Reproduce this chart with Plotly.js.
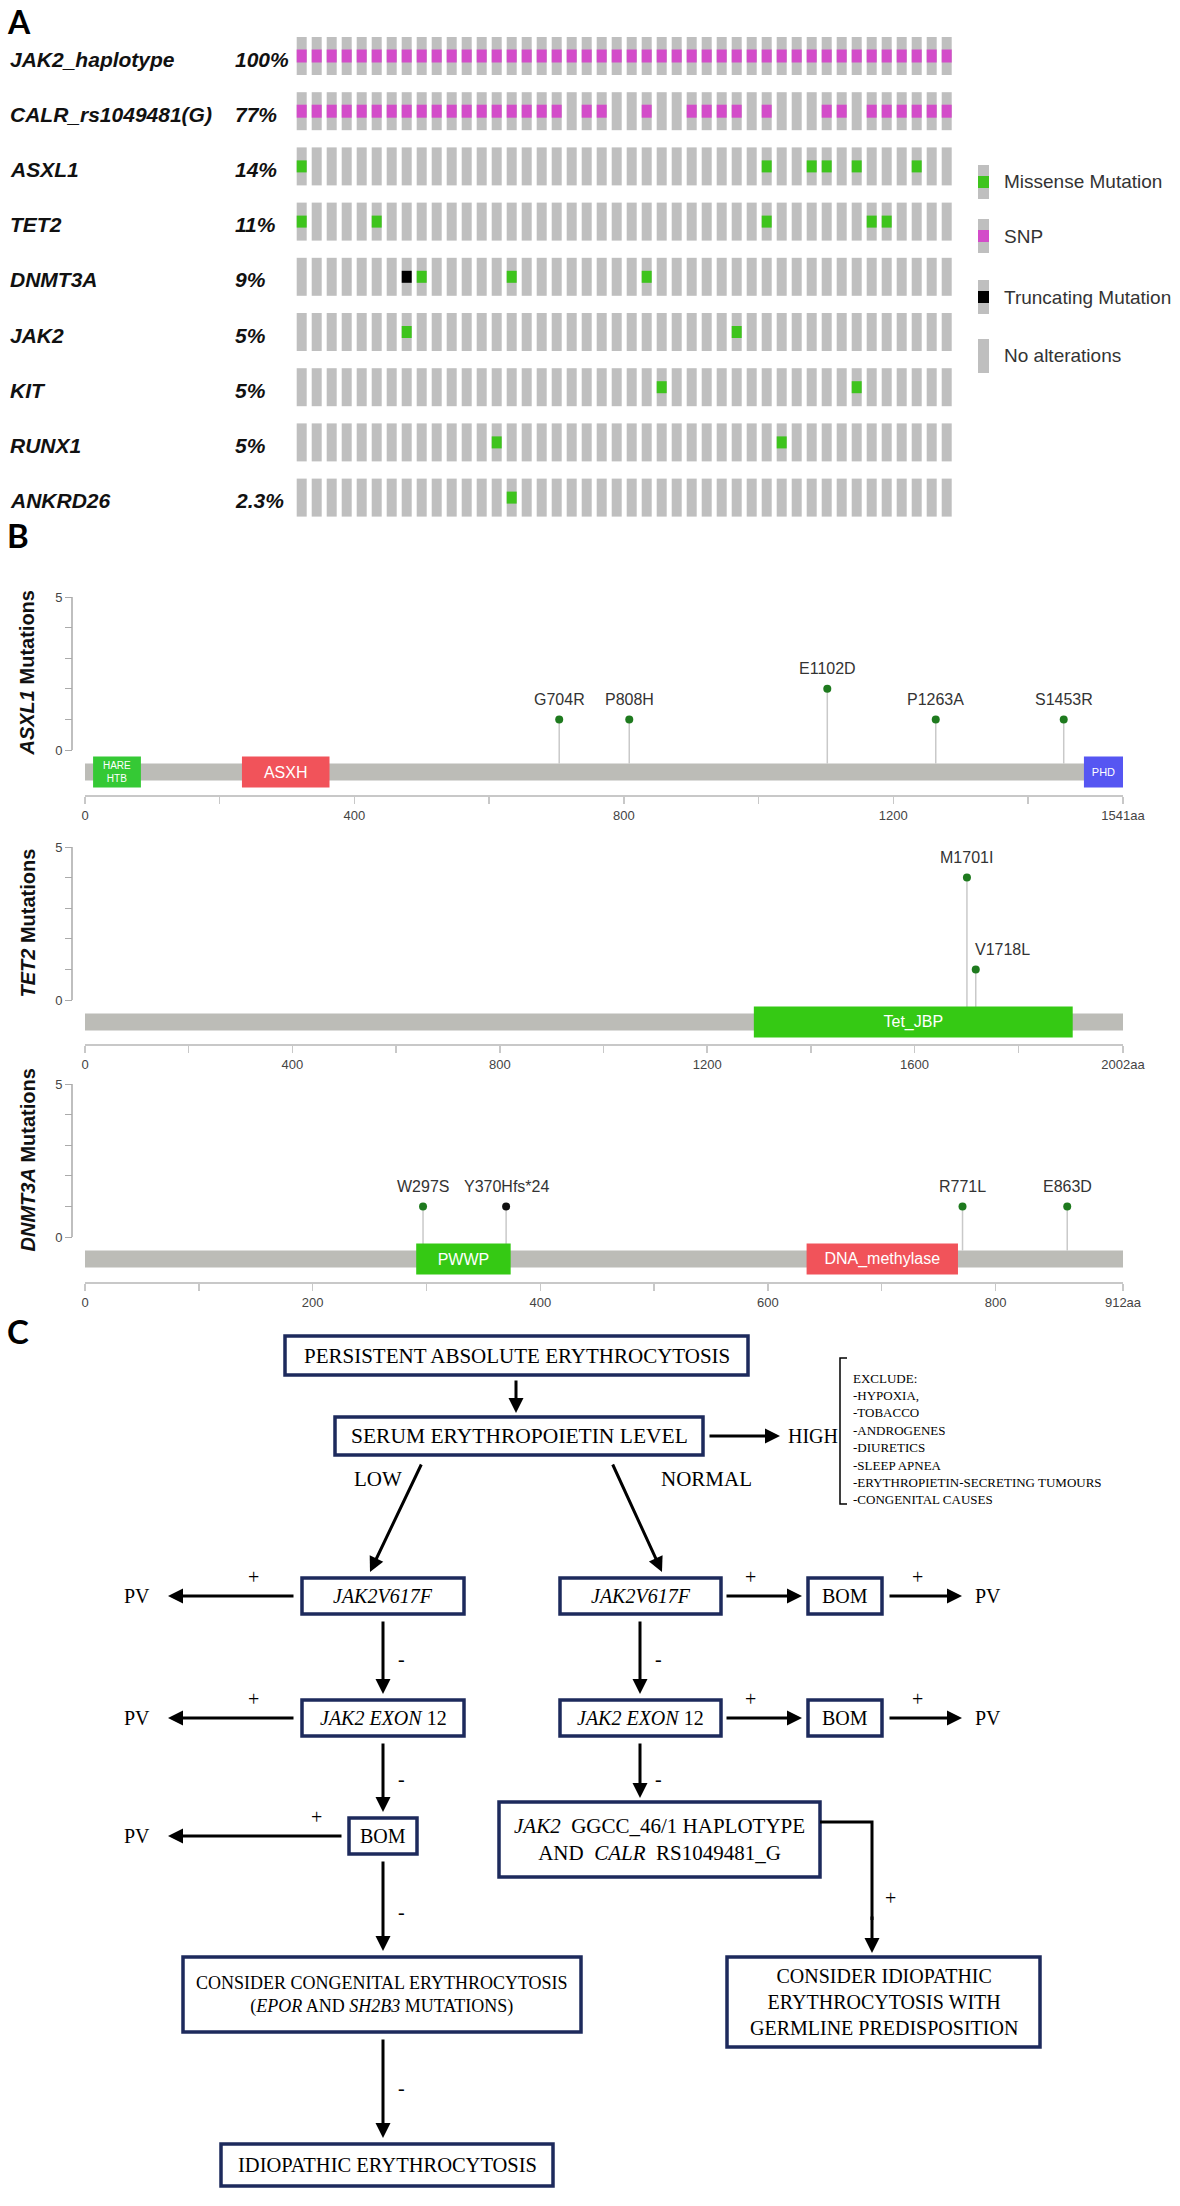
<!DOCTYPE html>
<html>
<head>
<meta charset="utf-8">
<script src="https://cdn.plot.ly/plotly-3.0.1.min.js"></script>
<style>
  html, body { margin: 0; padding: 0; background: #fff; }
  #fig { width: 1180px; height: 2206px; }
</style>
</head>
<body>
<div id="fig"></div>
<script>
// ---------- Panel A: oncoprint data ----------
const nSamples = 44;
const genes = ['JAK2_haplotype', 'CALR_rs1049481(G)', 'ASXL1', 'TET2', 'DNMT3A', 'JAK2', 'KIT', 'RUNX1', 'ANKRD26'];
const geneFreq = ['100%', '77%', '14%', '11%', '9%', '5%', '5%', '5%', '2.3%'];
// sample (column) indices carrying each alteration, one list per gene row
const snpCols = [
  [0, 1, 2, 3, 4, 5, 6, 7, 8, 9, 10, 11, 12, 13, 14, 15, 16, 17, 18, 19, 20, 21, 22, 23, 24, 25, 26, 27, 28, 29, 30, 31, 32, 33, 34, 35, 36, 37, 38, 39, 40, 41, 42, 43],
  [0, 1, 2, 3, 4, 5, 6, 7, 8, 9, 10, 11, 12, 13, 14, 15, 16, 17, 19, 20, 23, 26, 27, 28, 29, 31, 35, 36, 38, 39, 40, 41, 42, 43],
  [], [], [], [], [], [], []
];
const missenseCols = [[], [], [0, 31, 34, 35, 37, 41], [0, 5, 31, 38, 39], [8, 14, 23], [7, 29], [24, 37], [13, 32], [14]];
const truncatingCols = [[], [], [], [], [7], [], [], [], []];
const legendLabels = ['Missense Mutation', 'SNP', 'Truncating Mutation', 'No alterations'];

// ---------- Panel B: lollipop data ----------
const asxl1Length = 1541;
const asxl1MutPos = [704, 808, 1102, 1263, 1453];
const asxl1MutCount = [1, 1, 2, 1, 1];
const asxl1MutLabel = ['G704R', 'P808H', 'E1102D', 'P1263A', 'S1453R'];
const asxl1MutType = ['missense', 'missense', 'missense', 'missense', 'missense'];
const asxl1DomName = ['HARE<br>HTB', 'ASXH', 'PHD'];
const asxl1DomStart = [12, 233, 1483];
const asxl1DomEnd = [83, 363, 1541];

const tet2Length = 2002;
const tet2MutPos = [1701, 1718];
const tet2MutCount = [4, 1];
const tet2MutLabel = ['M1701I', 'V1718L'];
const tet2MutType = ['missense', 'missense'];
const tet2DomName = ['Tet_JBP'];
const tet2DomStart = [1290];
const tet2DomEnd = [1905];

const dnmt3aLength = 912;
const dnmt3aMutPos = [297, 370, 771, 863];
const dnmt3aMutCount = [1, 1, 1, 1];
const dnmt3aMutLabel = ['W297S', 'Y370Hfs*24', 'R771L', 'E863D'];
const dnmt3aMutType = ['missense', 'truncating', 'missense', 'missense'];
const dnmt3aDomName = ['PWWP', 'DNA_methylase'];
const dnmt3aDomStart = [291, 634];
const dnmt3aDomEnd = [374, 767];

// ---------- Panel C: flowchart text ----------
const FLOW_START = 'PERSISTENT ABSOLUTE ERYTHROCYTOSIS';
const FLOW_EPO = 'SERUM ERYTHROPOIETIN LEVEL';
const FLOW_V617F = '<i>JAK2V617F</i>';
const FLOW_EXON12 = '<i>JAK2 EXON</i> 12';
const FLOW_BOM = 'BOM';
const FLOW_HAPLO = '<i>JAK2</i>  GGCC_46/1 HAPLOTYPE<br>AND  <i>CALR</i>  RS1049481_G';
const FLOW_CONGENITAL = 'CONSIDER CONGENITAL ERYTHROCYTOSIS<br>(<i>EPOR</i> AND <i>SH2B3</i> MUTATIONS)';
const FLOW_IDIO = 'IDIOPATHIC ERYTHROCYTOSIS';
const FLOW_GERMLINE = 'CONSIDER IDIOPATHIC<br>ERYTHROCYTOSIS WITH<br>GERMLINE PREDISPOSITION';
const excludeList = ['EXCLUDE:', '-HYPOXIA,', '-TOBACCO', '-ANDROGENES', '-DIURETICS', '-SLEEP APNEA', '-ERYTHROPIETIN-SECRETING TUMOURS', '-CONGENITAL CAUSES'];

// ---------- helpers ----------
const W = 1180, H = 2206;
const fx = p => p / W;
const fy = p => 1 - p / H;
const domX = (l, r) => [fx(l), fx(r)];
const domY = (top, bottom) => [fy(bottom), fy(top)];

const SANS = 'Liberation Sans, Arial, sans-serif';
const SERIF = 'Liberation Serif, Times New Roman, serif';
const LETTER = 'Lato, Liberation Sans, sans-serif';

const colors = {
  grey: '#bfbfbf',
  snp: '#d34cc9',
  missense: '#3ec41d',
  truncating: '#000000',
  headMissense: '#1e7a1e',
  headTrunc: '#111111',
  protein: '#bcbcb7',
  stem: '#c9c9c9',
  navy: '#1d2a5c'
};
const domainColor = {
  'HARE<br>HTB': '#35c935', 'ASXH': '#f1535a', 'PHD': '#5656f2',
  'Tet_JBP': '#35c914', 'PWWP': '#35c914', 'DNA_methylase': '#f1535a'
};
const domainFont = { 'HARE<br>HTB': 10, 'PHD': 11 };

const traces = [];
const shapes = [];
const annotations = [];

// ---------- Panel A ----------
const rowPitch = 55.2, firstRow = 56, colPitch = 15, firstCol = 301.7;
const sampleIds = [...Array(nSamples).keys()];

function cellTrace(rowsCols, hPx, color) {
  const h = hPx / rowPitch;
  const x = [], y = [], base = [];
  rowsCols.forEach((cols, r) => cols.forEach(c => { x.push(c); y.push(h); base.push(r - h / 2); }));
  return {
    type: 'bar', x, y, base, width: 10 / colPitch,
    marker: { color, line: { width: 0 } },
    xaxis: 'x', yaxis: 'y', hoverinfo: 'skip', showlegend: false
  };
}
traces.push(cellTrace(genes.map(() => sampleIds), 38, colors.grey));
traces.push(cellTrace(snpCols, 13, colors.snp));
traces.push(cellTrace(missenseCols, 12, colors.missense));
traces.push(cellTrace(truncatingCols, 12, colors.truncating));

genes.forEach((g, r) => {
  annotations.push({
    xref: 'paper', yref: 'y', x: fx(8), y: r, yshift: -3, xanchor: 'left', yanchor: 'middle',
    text: '<b><i>' + g + '</i></b>', showarrow: false, font: { family: SANS, size: 21, color: '#111' }
  });
  annotations.push({
    xref: 'paper', yref: 'y', x: fx(233), y: r, yshift: -3, xanchor: 'left', yanchor: 'middle',
    text: '<b><i>' + geneFreq[r] + '</i></b>', showarrow: false, font: { family: SANS, size: 21, color: '#111' }
  });
});

// legend
const legendColors = [colors.missense, colors.snp, colors.truncating, null];
const legendRows = [182, 236, 297, 356];
legendLabels.forEach((lab, i) => {
  const cy = legendRows[i];
  shapes.push({ type: 'rect', xref: 'paper', yref: 'paper', x0: fx(978), x1: fx(989), y0: fy(cy + 17), y1: fy(cy - 17),
    fillcolor: colors.grey, line: { width: 0 } });
  if (legendColors[i]) {
    shapes.push({ type: 'rect', xref: 'paper', yref: 'paper', x0: fx(978), x1: fx(989), y0: fy(cy + 6), y1: fy(cy - 6),
      fillcolor: legendColors[i], line: { width: 0 } });
  }
  annotations.push({ xref: 'paper', yref: 'paper', x: fx(1002), y: fy(cy), xanchor: 'left', yanchor: 'middle',
    text: lab, showarrow: false, font: { family: SANS, size: 19, color: '#333' } });
});

// ---------- Panel B ----------
const lollis = [
  { gene: 'ASXL1', len: asxl1Length, pos: asxl1MutPos, cnt: asxl1MutCount, lab: asxl1MutLabel, type: asxl1MutType,
    dn: asxl1DomName, ds: asxl1DomStart, de: asxl1DomEnd, minor: 200, major: 400 },
  { gene: 'TET2', len: tet2Length, pos: tet2MutPos, cnt: tet2MutCount, lab: tet2MutLabel, type: tet2MutType,
    dn: tet2DomName, ds: tet2DomStart, de: tet2DomEnd, minor: 200, major: 400 },
  { gene: 'DNMT3A', len: dnmt3aLength, pos: dnmt3aMutPos, cnt: dnmt3aMutCount, lab: dnmt3aMutLabel, type: dnmt3aMutType,
    dn: dnmt3aDomName, ds: dnmt3aDomStart, de: dnmt3aDomEnd, minor: 100, major: 200 }
];
// pixel geometry of each lollipop plot
const lolliGeom = [
  { top: 597, zero: 750, bar: 772, axis: 795 },
  { top: 847, zero: 1000, bar: 1022, axis: 1044 },
  { top: 1084, zero: 1237, bar: 1259, axis: 1282 }
];
const layoutAxes = {};

lollis.forEach((L, k) => {
  const g = lolliGeom[k];
  const xn = k + 2, yc = 2 * k + 2, yt = 2 * k + 3;
  const xa = 'x' + xn, yca = 'y' + yc, yta = 'y' + yt;
  const unit = (g.zero - g.top) / 5;
  const barTop = g.bar - 8.5;

  // stems
  const sx = [], sy = [];
  L.pos.forEach((p, i) => { sx.push(p, p, null); sy.push(-1, L.cnt[i], null); });
  traces.push({ type: 'scatter', mode: 'lines', x: sx, y: sy, xaxis: xa, yaxis: yca,
    line: { color: colors.stem, width: 1.5 }, hoverinfo: 'skip', showlegend: false });
  // heads
  traces.push({ type: 'scatter', mode: 'markers', x: L.pos, y: L.cnt, xaxis: xa, yaxis: yca, cliponaxis: false,
    marker: { size: 8, color: L.type.map(t => t === 'truncating' ? colors.headTrunc : colors.headMissense) },
    hoverinfo: 'skip', showlegend: false });
  L.lab.forEach((lab, i) => {
    const shiftRight = (L.gene === 'TET2' && lab === 'V1718L');
    annotations.push({ xref: xa, yref: yca, x: L.pos[i], y: L.cnt[i], yshift: 20, xshift: shiftRight ? -3 : 0,
      xanchor: shiftRight ? 'left' : 'center', yanchor: 'middle', text: lab, showarrow: false,
      font: { family: SANS, size: 16, color: '#333' } });
  });
  // protein backbone
  traces.push({ type: 'bar', orientation: 'h', y: [0], x: [L.len], base: [0], width: 17, xaxis: xa, yaxis: yta,
    marker: { color: colors.protein, line: { width: 0 } }, hoverinfo: 'skip', showlegend: false });
  // domains
  traces.push({ type: 'bar', orientation: 'h', y: L.dn.map(() => 0), base: L.ds, x: L.de.map((e, i) => e - L.ds[i]),
    width: 31, xaxis: xa, yaxis: yta, text: L.dn, textposition: 'inside', insidetextanchor: 'middle',
    constraintext: 'none', textangle: 0,
    textfont: { family: SANS, color: '#ffffff', size: L.dn.map(d => domainFont[d] || 16) },
    marker: { color: L.dn.map(d => domainColor[d]), line: { width: 0 } }, hoverinfo: 'skip', showlegend: false });

  const tv = [], tt = [];
  for (let v = 0; v <= L.len - 15; v += L.minor) { tv.push(v); tt.push(v % L.major === 0 ? String(v) : ''); }
  tv.push(L.len); tt.push(L.len + 'aa');

  layoutAxes['xaxis' + xn] = {
    domain: domX(85, 1123), range: [0, L.len], anchor: yta, tickvals: tv, ticktext: tt, tickangle: 0,
    ticks: 'outside', ticklen: 7, tickwidth: 1.5, tickcolor: '#c8c8c8', showline: true, linecolor: '#c8c8c8',
    linewidth: 2, showgrid: false, zeroline: false, tickfont: { family: SANS, size: 13, color: '#444' }
  };
  layoutAxes['yaxis' + yc] = {
    domain: domY(g.top, barTop), range: [-(barTop - g.zero) / unit, 5], anchor: 'free', position: fx(72),
    tickvals: [0, 1, 2, 3, 4, 5], ticktext: ['0', '', '', '', '', '5'], ticks: 'outside', ticklen: 7,
    tickcolor: '#aaa', showline: false, showgrid: false, zeroline: false,
    tickfont: { family: SANS, size: 13, color: '#444' }
  };
  layoutAxes['yaxis' + yt] = {
    domain: domY(g.zero, g.axis), range: [-(g.axis - g.bar), g.bar - g.zero], anchor: xa, visible: false
  };
  shapes.push({ type: 'line', xref: 'paper', yref: yca, x0: fx(72), x1: fx(72), y0: 0, y1: 5,
    line: { color: '#aaa', width: 1.5 } });
  annotations.push({ xref: 'paper', yref: 'paper', x: fx(27), y: fy((g.top + g.zero) / 2), textangle: -90,
    xanchor: 'center', yanchor: 'middle', showarrow: false,
    text: '<b><i>' + L.gene + '</i> Mutations</b>', font: { family: SANS, size: 20, color: '#111' } });
});

// panel letters
annotations.push({ xref: 'paper', yref: 'paper', x: fx(5), y: fy(0), xanchor: 'left', yanchor: 'top',
  text: '<b>A</b>', showarrow: false, font: { family: LETTER, size: 32, color: '#000' } });
[['B', 535], ['C', 1331]].forEach(([t, y]) => {
  annotations.push({ xref: 'paper', yref: 'paper', x: fx(5), y: fy(y), xanchor: 'left', yanchor: 'middle',
    text: '<b>' + t + '</b>', showarrow: false, font: { family: LETTER, size: 33, color: '#000' } });
});

// ---------- Panel C: flowchart ----------
function box(x0, y0, x1, y1, text, size) {
  shapes.push({ type: 'rect', xref: 'paper', yref: 'paper', x0: fx(x0), x1: fx(x1), y0: fy(y1), y1: fy(y0),
    line: { color: colors.navy, width: 3.5 }, fillcolor: '#fff' });
  annotations.push({ xref: 'paper', yref: 'paper', x: fx((x0 + x1) / 2), y: fy((y0 + y1) / 2),
    xanchor: 'center', yanchor: 'middle', text, showarrow: false,
    font: { family: SERIF, size: size || 20, color: '#000' } });
}
function arrow(tx, ty, hx, hy) {
  annotations.push({ xref: 'paper', yref: 'paper', x: fx(hx), y: fy(hy), ax: tx - hx, ay: ty - hy,
    text: '', showarrow: true, arrowhead: 2, arrowsize: 1, arrowwidth: 3, arrowcolor: '#000', standoff: 0 });
}
function label(x, y, text, size, anchor) {
  annotations.push({ xref: 'paper', yref: 'paper', x: fx(x), y: fy(y), xanchor: anchor || 'center', yanchor: 'middle',
    text, showarrow: false, font: { family: SERIF, size: size || 20, color: '#000' } });
}

box(285, 1336, 748, 1375, FLOW_START, 21);
arrow(516, 1379, 516, 1413);
box(335, 1417, 703, 1455, FLOW_EPO, 21.5);
arrow(708, 1436, 780, 1436);
label(786, 1436, 'HIGH', 20, 'left');
// exclusion bracket
shapes.push({ type: 'path', xref: 'paper', yref: 'paper',
  path: `M ${fx(847)},${fy(1358)} L ${fx(840)},${fy(1358)} L ${fx(840)},${fy(1504)} L ${fx(847)},${fy(1504)}`,
  line: { color: '#000', width: 1.5 } });
excludeList.forEach((t, i) => label(851, 1378 + i * 17.4, t, 13, 'left'));

label(378, 1479, 'LOW', 21);
label(706, 1479, 'NORMAL', 21);
arrow(422, 1463, 370, 1572);
arrow(612, 1463, 662, 1572);

// rows of JAK2 tests
[[1596, FLOW_V617F], [1718, FLOW_EXON12]].forEach(([cy, txt]) => {
  box(302, cy - 18, 464, cy + 18, txt);
  box(560, cy - 18, 721, cy + 18, txt);
  arrow(295, cy, 168, cy); label(253, cy - 19, '+'); label(137, cy, 'PV');
  arrow(725, cy, 802, cy); label(750, cy - 19, '+');
  box(808, cy - 18, 882, cy + 18, FLOW_BOM);
  arrow(888, cy, 962, cy); label(918, cy - 19, '+'); label(988, cy, 'PV');
});
// down arrows between rows
arrow(383, 1620, 383, 1694); label(401, 1659, '-');
arrow(640, 1620, 640, 1694); label(658, 1659, '-');
arrow(383, 1742, 383, 1812); label(401, 1779, '-');
arrow(640, 1742, 640, 1798); label(658, 1779, '-');

// third row
box(349, 1818, 417, 1854, FLOW_BOM);
arrow(343, 1836, 168, 1836); label(316, 1817, '+'); label(137, 1836, 'PV');
box(499, 1802, 820, 1877, FLOW_HAPLO, 21);
shapes.push({ type: 'path', xref: 'paper', yref: 'paper',
  path: `M ${fx(820)},${fy(1822)} L ${fx(872)},${fy(1822)} L ${fx(872)},${fy(1920)}`,
  line: { color: '#000', width: 3 } });
arrow(872, 1915, 872, 1953); label(890, 1898, '+');
box(727, 1957, 1040, 2047, FLOW_GERMLINE);

arrow(383, 1860, 383, 1951); label(401, 1912, '-');
box(183, 1957, 581, 2032, FLOW_CONGENITAL, 18);
arrow(383, 2038, 383, 2138); label(401, 2088, '-');
box(221, 2144, 553, 2186, FLOW_IDIO, 20.5);

const layout = Object.assign({
  width: W, height: H,
  margin: { l: 0, r: 0, t: 0, b: 0 },
  paper_bgcolor: '#fff', plot_bgcolor: 'rgba(0,0,0,0)',
  barmode: 'overlay', showlegend: false,
  xaxis: { domain: domX(290, 970), range: [(290 - firstCol) / colPitch, (970 - firstCol) / colPitch],
    visible: false, anchor: 'y' },
  yaxis: { domain: domY(30, 520), range: [(520 - firstRow) / rowPitch, (30 - firstRow) / rowPitch],
    visible: false, anchor: 'x' },
  shapes, annotations
}, layoutAxes);

Plotly.newPlot('fig', traces, layout, { displayModeBar: false, staticPlot: true });
</script>
</body>
</html>
